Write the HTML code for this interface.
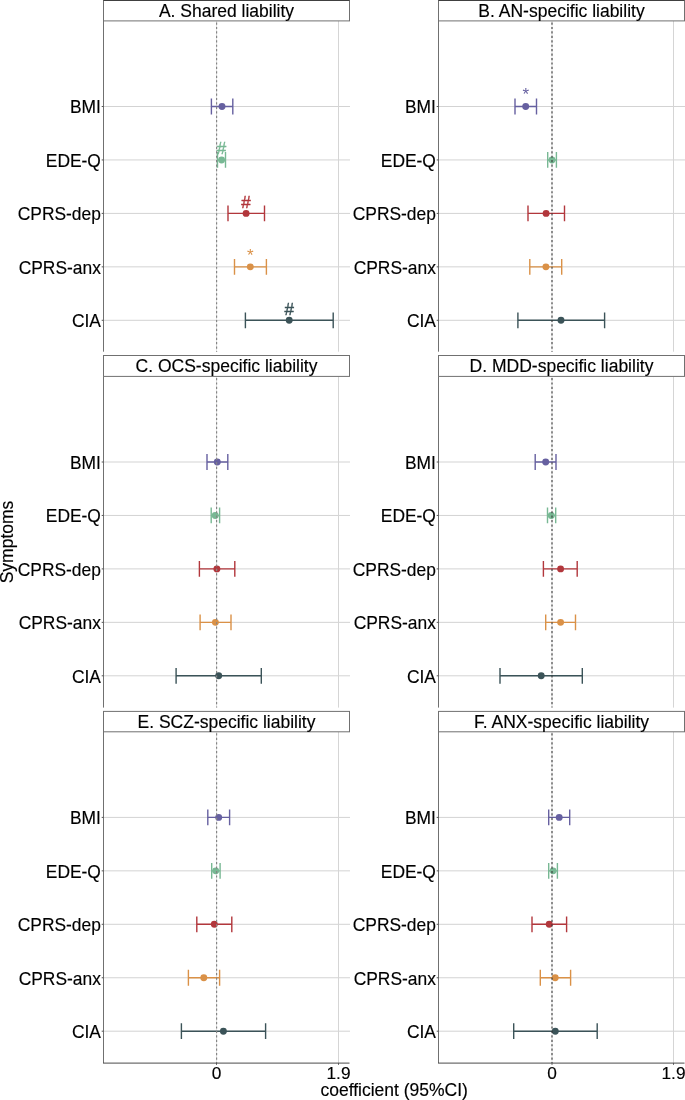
<!DOCTYPE html><html><head><meta charset="utf-8"><style>
html,body{margin:0;padding:0;overflow:hidden;}
svg{display:block;will-change:transform;}
text{font-family:"Liberation Sans", sans-serif;stroke:currentColor;stroke-width:0.15px;}
</style></head><body>
<svg width="685" height="1100" viewBox="0 0 685 1100">
<rect width="685" height="1100" fill="#fff"/>
<line x1="103.50" y1="106.50" x2="350.00" y2="106.50" stroke="#d3d3d3" stroke-width="1.00"/>
<line x1="103.50" y1="159.95" x2="350.00" y2="159.95" stroke="#d3d3d3" stroke-width="1.00"/>
<line x1="103.50" y1="213.40" x2="350.00" y2="213.40" stroke="#d3d3d3" stroke-width="1.00"/>
<line x1="103.50" y1="266.85" x2="350.00" y2="266.85" stroke="#d3d3d3" stroke-width="1.00"/>
<line x1="103.50" y1="320.30" x2="350.00" y2="320.30" stroke="#d3d3d3" stroke-width="1.00"/>
<line x1="216.50" y1="20.90" x2="216.50" y2="351.70" stroke="#e2e2e2" stroke-width="1.00"/>
<line x1="338.50" y1="20.90" x2="338.50" y2="351.70" stroke="#d5d5d5" stroke-width="1.00"/>
<path d="M211.40 106.50H232.80M211.40 98.60V114.40M232.80 98.60V114.40" stroke="#6660a0" stroke-width="1.4" fill="none"/>
<circle cx="222.00" cy="106.50" r="3.45" fill="#6660a0"/>
<path d="M217.50 159.95H225.50M217.50 152.05V167.85M225.50 152.05V167.85" stroke="#78b894" stroke-width="1.4" fill="none"/>
<circle cx="221.60" cy="159.95" r="3.45" fill="#78b894"/>
<text x="221.60" y="154.15" font-size="17.0" text-anchor="middle" fill="#78b894" style="color:#78b894;stroke-width:0.4px">#</text>
<path d="M228.00 213.40H264.50M228.00 205.50V221.30M264.50 205.50V221.30" stroke="#b2373c" stroke-width="1.4" fill="none"/>
<circle cx="246.10" cy="213.40" r="3.45" fill="#b2373c"/>
<text x="246.10" y="207.60" font-size="17.0" text-anchor="middle" fill="#b2373c" style="color:#b2373c;stroke-width:0.4px">#</text>
<path d="M234.50 266.85H266.40M234.50 258.95V274.75M266.40 258.95V274.75" stroke="#da9147" stroke-width="1.4" fill="none"/>
<circle cx="250.30" cy="266.85" r="3.45" fill="#da9147"/>
<text x="250.30" y="260.55" font-size="17.0" text-anchor="middle" fill="#da9147" style="color:#da9147;stroke:none">*</text>
<path d="M245.40 320.30H333.20M245.40 312.40V328.20M333.20 312.40V328.20" stroke="#3b5358" stroke-width="1.4" fill="none"/>
<circle cx="289.20" cy="320.30" r="3.45" fill="#3b5358"/>
<text x="289.20" y="314.50" font-size="17.0" text-anchor="middle" fill="#3b5358" style="color:#3b5358;stroke-width:0.4px">#</text>
<line x1="216.60" y1="20.90" x2="216.60" y2="351.70" stroke="#858585" stroke-width="1.20" stroke-dasharray="2.2 2.24" stroke-dashoffset="2.9"/>
<line x1="103.50" y1="20.90" x2="103.50" y2="351.70" stroke="#707070" stroke-width="1.00"/>
<line x1="101.70" y1="106.50" x2="103.50" y2="106.50" stroke="#555" stroke-width="1.00"/>
<text transform="translate(100.90 113.30) scale(1 1.040)" font-size="17.4" text-anchor="end" fill="#000">BMI</text>
<line x1="101.70" y1="159.95" x2="103.50" y2="159.95" stroke="#555" stroke-width="1.00"/>
<text transform="translate(100.90 166.75) scale(1 1.040)" font-size="17.4" text-anchor="end" fill="#000">EDE-Q</text>
<line x1="101.70" y1="213.40" x2="103.50" y2="213.40" stroke="#555" stroke-width="1.00"/>
<text transform="translate(100.90 220.20) scale(1 1.040)" font-size="17.4" text-anchor="end" fill="#000">CPRS-dep</text>
<line x1="101.70" y1="266.85" x2="103.50" y2="266.85" stroke="#555" stroke-width="1.00"/>
<text transform="translate(100.90 273.65) scale(1 1.040)" font-size="17.4" text-anchor="end" fill="#000">CPRS-anx</text>
<line x1="101.70" y1="320.30" x2="103.50" y2="320.30" stroke="#555" stroke-width="1.00"/>
<text transform="translate(100.90 327.10) scale(1 1.040)" font-size="17.4" text-anchor="end" fill="#000">CIA</text>
<rect x="103.50" y="0.50" width="246.00" height="20.40" fill="#fff" stroke="#707070" stroke-width="1"/>
<text x="226.50" y="16.70" font-size="17.5" text-anchor="middle" fill="#000">A. Shared liability</text>
<line x1="438.50" y1="106.50" x2="685.00" y2="106.50" stroke="#d3d3d3" stroke-width="1.00"/>
<line x1="438.50" y1="159.95" x2="685.00" y2="159.95" stroke="#d3d3d3" stroke-width="1.00"/>
<line x1="438.50" y1="213.40" x2="685.00" y2="213.40" stroke="#d3d3d3" stroke-width="1.00"/>
<line x1="438.50" y1="266.85" x2="685.00" y2="266.85" stroke="#d3d3d3" stroke-width="1.00"/>
<line x1="438.50" y1="320.30" x2="685.00" y2="320.30" stroke="#d3d3d3" stroke-width="1.00"/>
<line x1="552.00" y1="20.90" x2="552.00" y2="351.70" stroke="#e2e2e2" stroke-width="1.00"/>
<line x1="673.50" y1="20.90" x2="673.50" y2="351.70" stroke="#d5d5d5" stroke-width="1.00"/>
<path d="M515.00 106.50H536.50M515.00 98.60V114.40M536.50 98.60V114.40" stroke="#6660a0" stroke-width="1.4" fill="none"/>
<circle cx="525.70" cy="106.50" r="3.45" fill="#6660a0"/>
<text x="525.70" y="100.20" font-size="17.0" text-anchor="middle" fill="#6660a0" style="color:#6660a0;stroke:none">*</text>
<path d="M547.70 159.95H556.40M547.70 152.05V167.85M556.40 152.05V167.85" stroke="#78b894" stroke-width="1.4" fill="none"/>
<circle cx="552.00" cy="159.95" r="3.45" fill="#78b894"/>
<path d="M528.00 213.40H564.50M528.00 205.50V221.30M564.50 205.50V221.30" stroke="#b2373c" stroke-width="1.4" fill="none"/>
<circle cx="546.10" cy="213.40" r="3.45" fill="#b2373c"/>
<path d="M529.80 266.85H561.70M529.80 258.95V274.75M561.70 258.95V274.75" stroke="#da9147" stroke-width="1.4" fill="none"/>
<circle cx="545.90" cy="266.85" r="3.45" fill="#da9147"/>
<path d="M517.90 320.30H604.60M517.90 312.40V328.20M604.60 312.40V328.20" stroke="#3b5358" stroke-width="1.4" fill="none"/>
<circle cx="561.00" cy="320.30" r="3.45" fill="#3b5358"/>
<line x1="552.00" y1="20.90" x2="552.00" y2="351.70" stroke="#333333" stroke-width="1.05" stroke-dasharray="2.2 2.24" stroke-dashoffset="2.9"/>
<line x1="438.50" y1="20.90" x2="438.50" y2="351.70" stroke="#707070" stroke-width="1.00"/>
<line x1="436.70" y1="106.50" x2="438.50" y2="106.50" stroke="#555" stroke-width="1.00"/>
<text transform="translate(435.90 113.30) scale(1 1.040)" font-size="17.4" text-anchor="end" fill="#000">BMI</text>
<line x1="436.70" y1="159.95" x2="438.50" y2="159.95" stroke="#555" stroke-width="1.00"/>
<text transform="translate(435.90 166.75) scale(1 1.040)" font-size="17.4" text-anchor="end" fill="#000">EDE-Q</text>
<line x1="436.70" y1="213.40" x2="438.50" y2="213.40" stroke="#555" stroke-width="1.00"/>
<text transform="translate(435.90 220.20) scale(1 1.040)" font-size="17.4" text-anchor="end" fill="#000">CPRS-dep</text>
<line x1="436.70" y1="266.85" x2="438.50" y2="266.85" stroke="#555" stroke-width="1.00"/>
<text transform="translate(435.90 273.65) scale(1 1.040)" font-size="17.4" text-anchor="end" fill="#000">CPRS-anx</text>
<line x1="436.70" y1="320.30" x2="438.50" y2="320.30" stroke="#555" stroke-width="1.00"/>
<text transform="translate(435.90 327.10) scale(1 1.040)" font-size="17.4" text-anchor="end" fill="#000">CIA</text>
<rect x="438.50" y="0.50" width="246.00" height="20.40" fill="#fff" stroke="#707070" stroke-width="1"/>
<text x="561.50" y="16.70" font-size="17.5" text-anchor="middle" fill="#000">B. AN-specific liability</text>
<line x1="103.50" y1="462.00" x2="350.00" y2="462.00" stroke="#d3d3d3" stroke-width="1.00"/>
<line x1="103.50" y1="515.45" x2="350.00" y2="515.45" stroke="#d3d3d3" stroke-width="1.00"/>
<line x1="103.50" y1="568.90" x2="350.00" y2="568.90" stroke="#d3d3d3" stroke-width="1.00"/>
<line x1="103.50" y1="622.35" x2="350.00" y2="622.35" stroke="#d3d3d3" stroke-width="1.00"/>
<line x1="103.50" y1="675.80" x2="350.00" y2="675.80" stroke="#d3d3d3" stroke-width="1.00"/>
<line x1="216.50" y1="376.40" x2="216.50" y2="707.60" stroke="#e2e2e2" stroke-width="1.00"/>
<line x1="338.50" y1="376.40" x2="338.50" y2="707.60" stroke="#d5d5d5" stroke-width="1.00"/>
<path d="M207.00 462.00H227.80M207.00 454.10V469.90M227.80 454.10V469.90" stroke="#6660a0" stroke-width="1.4" fill="none"/>
<circle cx="217.30" cy="462.00" r="3.45" fill="#6660a0"/>
<path d="M211.20 515.45H219.60M211.20 507.55V523.35M219.60 507.55V523.35" stroke="#78b894" stroke-width="1.4" fill="none"/>
<circle cx="215.20" cy="515.45" r="3.45" fill="#78b894"/>
<path d="M199.40 568.90H234.80M199.40 561.00V576.80M234.80 561.00V576.80" stroke="#b2373c" stroke-width="1.4" fill="none"/>
<circle cx="216.90" cy="568.90" r="3.45" fill="#b2373c"/>
<path d="M200.10 622.35H231.00M200.10 614.45V630.25M231.00 614.45V630.25" stroke="#da9147" stroke-width="1.4" fill="none"/>
<circle cx="215.40" cy="622.35" r="3.45" fill="#da9147"/>
<path d="M176.10 675.80H261.30M176.10 667.90V683.70M261.30 667.90V683.70" stroke="#3b5358" stroke-width="1.4" fill="none"/>
<circle cx="218.70" cy="675.80" r="3.45" fill="#3b5358"/>
<line x1="216.60" y1="376.40" x2="216.60" y2="707.60" stroke="#858585" stroke-width="1.20" stroke-dasharray="2.2 2.24" stroke-dashoffset="2.9"/>
<line x1="103.50" y1="376.40" x2="103.50" y2="707.60" stroke="#707070" stroke-width="1.00"/>
<line x1="101.70" y1="462.00" x2="103.50" y2="462.00" stroke="#555" stroke-width="1.00"/>
<text transform="translate(100.90 468.80) scale(1 1.040)" font-size="17.4" text-anchor="end" fill="#000">BMI</text>
<line x1="101.70" y1="515.45" x2="103.50" y2="515.45" stroke="#555" stroke-width="1.00"/>
<text transform="translate(100.90 522.25) scale(1 1.040)" font-size="17.4" text-anchor="end" fill="#000">EDE-Q</text>
<line x1="101.70" y1="568.90" x2="103.50" y2="568.90" stroke="#555" stroke-width="1.00"/>
<text transform="translate(100.90 575.70) scale(1 1.040)" font-size="17.4" text-anchor="end" fill="#000">CPRS-dep</text>
<line x1="101.70" y1="622.35" x2="103.50" y2="622.35" stroke="#555" stroke-width="1.00"/>
<text transform="translate(100.90 629.15) scale(1 1.040)" font-size="17.4" text-anchor="end" fill="#000">CPRS-anx</text>
<line x1="101.70" y1="675.80" x2="103.50" y2="675.80" stroke="#555" stroke-width="1.00"/>
<text transform="translate(100.90 682.60) scale(1 1.040)" font-size="17.4" text-anchor="end" fill="#000">CIA</text>
<rect x="103.50" y="355.50" width="246.00" height="20.90" fill="#fff" stroke="#707070" stroke-width="1"/>
<text x="226.50" y="371.70" font-size="17.5" text-anchor="middle" fill="#000">C. OCS-specific liability</text>
<line x1="438.50" y1="462.00" x2="685.00" y2="462.00" stroke="#d3d3d3" stroke-width="1.00"/>
<line x1="438.50" y1="515.45" x2="685.00" y2="515.45" stroke="#d3d3d3" stroke-width="1.00"/>
<line x1="438.50" y1="568.90" x2="685.00" y2="568.90" stroke="#d3d3d3" stroke-width="1.00"/>
<line x1="438.50" y1="622.35" x2="685.00" y2="622.35" stroke="#d3d3d3" stroke-width="1.00"/>
<line x1="438.50" y1="675.80" x2="685.00" y2="675.80" stroke="#d3d3d3" stroke-width="1.00"/>
<line x1="552.00" y1="376.40" x2="552.00" y2="707.60" stroke="#e2e2e2" stroke-width="1.00"/>
<line x1="673.50" y1="376.40" x2="673.50" y2="707.60" stroke="#d5d5d5" stroke-width="1.00"/>
<path d="M535.20 462.00H556.00M535.20 454.10V469.90M556.00 454.10V469.90" stroke="#6660a0" stroke-width="1.4" fill="none"/>
<circle cx="545.70" cy="462.00" r="3.45" fill="#6660a0"/>
<path d="M547.50 515.45H555.70M547.50 507.55V523.35M555.70 507.55V523.35" stroke="#78b894" stroke-width="1.4" fill="none"/>
<circle cx="551.30" cy="515.45" r="3.45" fill="#78b894"/>
<path d="M543.40 568.90H577.20M543.40 561.00V576.80M577.20 561.00V576.80" stroke="#b2373c" stroke-width="1.4" fill="none"/>
<circle cx="560.60" cy="568.90" r="3.45" fill="#b2373c"/>
<path d="M545.70 622.35H575.50M545.70 614.45V630.25M575.50 614.45V630.25" stroke="#da9147" stroke-width="1.4" fill="none"/>
<circle cx="560.60" cy="622.35" r="3.45" fill="#da9147"/>
<path d="M500.00 675.80H582.30M500.00 667.90V683.70M582.30 667.90V683.70" stroke="#3b5358" stroke-width="1.4" fill="none"/>
<circle cx="541.20" cy="675.80" r="3.45" fill="#3b5358"/>
<line x1="552.00" y1="376.40" x2="552.00" y2="707.60" stroke="#333333" stroke-width="1.05" stroke-dasharray="2.2 2.24" stroke-dashoffset="2.9"/>
<line x1="438.50" y1="376.40" x2="438.50" y2="707.60" stroke="#707070" stroke-width="1.00"/>
<line x1="436.70" y1="462.00" x2="438.50" y2="462.00" stroke="#555" stroke-width="1.00"/>
<text transform="translate(435.90 468.80) scale(1 1.040)" font-size="17.4" text-anchor="end" fill="#000">BMI</text>
<line x1="436.70" y1="515.45" x2="438.50" y2="515.45" stroke="#555" stroke-width="1.00"/>
<text transform="translate(435.90 522.25) scale(1 1.040)" font-size="17.4" text-anchor="end" fill="#000">EDE-Q</text>
<line x1="436.70" y1="568.90" x2="438.50" y2="568.90" stroke="#555" stroke-width="1.00"/>
<text transform="translate(435.90 575.70) scale(1 1.040)" font-size="17.4" text-anchor="end" fill="#000">CPRS-dep</text>
<line x1="436.70" y1="622.35" x2="438.50" y2="622.35" stroke="#555" stroke-width="1.00"/>
<text transform="translate(435.90 629.15) scale(1 1.040)" font-size="17.4" text-anchor="end" fill="#000">CPRS-anx</text>
<line x1="436.70" y1="675.80" x2="438.50" y2="675.80" stroke="#555" stroke-width="1.00"/>
<text transform="translate(435.90 682.60) scale(1 1.040)" font-size="17.4" text-anchor="end" fill="#000">CIA</text>
<rect x="438.50" y="355.50" width="246.00" height="20.90" fill="#fff" stroke="#707070" stroke-width="1"/>
<text x="561.50" y="371.70" font-size="17.5" text-anchor="middle" fill="#000">D. MDD-specific liability</text>
<line x1="103.50" y1="817.40" x2="350.00" y2="817.40" stroke="#d3d3d3" stroke-width="1.00"/>
<line x1="103.50" y1="870.85" x2="350.00" y2="870.85" stroke="#d3d3d3" stroke-width="1.00"/>
<line x1="103.50" y1="924.30" x2="350.00" y2="924.30" stroke="#d3d3d3" stroke-width="1.00"/>
<line x1="103.50" y1="977.75" x2="350.00" y2="977.75" stroke="#d3d3d3" stroke-width="1.00"/>
<line x1="103.50" y1="1031.20" x2="350.00" y2="1031.20" stroke="#d3d3d3" stroke-width="1.00"/>
<line x1="216.50" y1="731.80" x2="216.50" y2="1063.00" stroke="#e2e2e2" stroke-width="1.00"/>
<line x1="338.50" y1="731.80" x2="338.50" y2="1063.00" stroke="#d5d5d5" stroke-width="1.00"/>
<path d="M207.80 817.40H229.60M207.80 809.50V825.30M229.60 809.50V825.30" stroke="#6660a0" stroke-width="1.4" fill="none"/>
<circle cx="218.70" cy="817.40" r="3.45" fill="#6660a0"/>
<path d="M211.70 870.85H220.10M211.70 862.95V878.75M220.10 862.95V878.75" stroke="#78b894" stroke-width="1.4" fill="none"/>
<circle cx="215.70" cy="870.85" r="3.45" fill="#78b894"/>
<path d="M196.80 924.30H231.80M196.80 916.40V932.20M231.80 916.40V932.20" stroke="#b2373c" stroke-width="1.4" fill="none"/>
<circle cx="214.30" cy="924.30" r="3.45" fill="#b2373c"/>
<path d="M188.40 977.75H219.60M188.40 969.85V985.65M219.60 969.85V985.65" stroke="#da9147" stroke-width="1.4" fill="none"/>
<circle cx="203.80" cy="977.75" r="3.45" fill="#da9147"/>
<path d="M181.40 1031.20H265.60M181.40 1023.30V1039.10M265.60 1023.30V1039.10" stroke="#3b5358" stroke-width="1.4" fill="none"/>
<circle cx="223.40" cy="1031.20" r="3.45" fill="#3b5358"/>
<line x1="216.60" y1="731.80" x2="216.60" y2="1063.00" stroke="#858585" stroke-width="1.20" stroke-dasharray="2.2 2.24" stroke-dashoffset="2.9"/>
<line x1="103.50" y1="731.80" x2="103.50" y2="1063.00" stroke="#707070" stroke-width="1.00"/>
<line x1="101.70" y1="817.40" x2="103.50" y2="817.40" stroke="#555" stroke-width="1.00"/>
<text transform="translate(100.90 824.20) scale(1 1.040)" font-size="17.4" text-anchor="end" fill="#000">BMI</text>
<line x1="101.70" y1="870.85" x2="103.50" y2="870.85" stroke="#555" stroke-width="1.00"/>
<text transform="translate(100.90 877.65) scale(1 1.040)" font-size="17.4" text-anchor="end" fill="#000">EDE-Q</text>
<line x1="101.70" y1="924.30" x2="103.50" y2="924.30" stroke="#555" stroke-width="1.00"/>
<text transform="translate(100.90 931.10) scale(1 1.040)" font-size="17.4" text-anchor="end" fill="#000">CPRS-dep</text>
<line x1="101.70" y1="977.75" x2="103.50" y2="977.75" stroke="#555" stroke-width="1.00"/>
<text transform="translate(100.90 984.55) scale(1 1.040)" font-size="17.4" text-anchor="end" fill="#000">CPRS-anx</text>
<line x1="101.70" y1="1031.20" x2="103.50" y2="1031.20" stroke="#555" stroke-width="1.00"/>
<text transform="translate(100.90 1038.00) scale(1 1.040)" font-size="17.4" text-anchor="end" fill="#000">CIA</text>
<rect x="103.50" y="711.40" width="246.00" height="20.40" fill="#fff" stroke="#707070" stroke-width="1"/>
<text x="226.50" y="727.60" font-size="17.5" text-anchor="middle" fill="#000">E. SCZ-specific liability</text>
<line x1="103.00" y1="1063.10" x2="349.50" y2="1063.10" stroke="#4a4a4a" stroke-width="1.00"/>
<line x1="216.50" y1="1063.00" x2="216.50" y2="1064.80" stroke="#555" stroke-width="1.00"/>
<text x="216.50" y="1078.60" font-size="17.3" text-anchor="middle" fill="#000">0</text>
<line x1="338.50" y1="1063.00" x2="338.50" y2="1064.80" stroke="#555" stroke-width="1.00"/>
<text x="338.50" y="1078.60" font-size="17.3" text-anchor="middle" fill="#000">1.9</text>
<line x1="438.50" y1="817.40" x2="685.00" y2="817.40" stroke="#d3d3d3" stroke-width="1.00"/>
<line x1="438.50" y1="870.85" x2="685.00" y2="870.85" stroke="#d3d3d3" stroke-width="1.00"/>
<line x1="438.50" y1="924.30" x2="685.00" y2="924.30" stroke="#d3d3d3" stroke-width="1.00"/>
<line x1="438.50" y1="977.75" x2="685.00" y2="977.75" stroke="#d3d3d3" stroke-width="1.00"/>
<line x1="438.50" y1="1031.20" x2="685.00" y2="1031.20" stroke="#d3d3d3" stroke-width="1.00"/>
<line x1="552.00" y1="731.80" x2="552.00" y2="1063.00" stroke="#e2e2e2" stroke-width="1.00"/>
<line x1="673.50" y1="731.80" x2="673.50" y2="1063.00" stroke="#d5d5d5" stroke-width="1.00"/>
<path d="M548.70 817.40H569.70M548.70 809.50V825.30M569.70 809.50V825.30" stroke="#6660a0" stroke-width="1.4" fill="none"/>
<circle cx="559.20" cy="817.40" r="3.45" fill="#6660a0"/>
<path d="M548.70 870.85H557.40M548.70 862.95V878.75M557.40 862.95V878.75" stroke="#78b894" stroke-width="1.4" fill="none"/>
<circle cx="553.10" cy="870.85" r="3.45" fill="#78b894"/>
<path d="M532.00 924.30H566.60M532.00 916.40V932.20M566.60 916.40V932.20" stroke="#b2373c" stroke-width="1.4" fill="none"/>
<circle cx="549.20" cy="924.30" r="3.45" fill="#b2373c"/>
<path d="M540.30 977.75H570.60M540.30 969.85V985.65M570.60 969.85V985.65" stroke="#da9147" stroke-width="1.4" fill="none"/>
<circle cx="555.20" cy="977.75" r="3.45" fill="#da9147"/>
<path d="M513.70 1031.20H597.20M513.70 1023.30V1039.10M597.20 1023.30V1039.10" stroke="#3b5358" stroke-width="1.4" fill="none"/>
<circle cx="555.30" cy="1031.20" r="3.45" fill="#3b5358"/>
<line x1="552.00" y1="731.80" x2="552.00" y2="1063.00" stroke="#333333" stroke-width="1.05" stroke-dasharray="2.2 2.24" stroke-dashoffset="2.9"/>
<line x1="438.50" y1="731.80" x2="438.50" y2="1063.00" stroke="#707070" stroke-width="1.00"/>
<line x1="436.70" y1="817.40" x2="438.50" y2="817.40" stroke="#555" stroke-width="1.00"/>
<text transform="translate(435.90 824.20) scale(1 1.040)" font-size="17.4" text-anchor="end" fill="#000">BMI</text>
<line x1="436.70" y1="870.85" x2="438.50" y2="870.85" stroke="#555" stroke-width="1.00"/>
<text transform="translate(435.90 877.65) scale(1 1.040)" font-size="17.4" text-anchor="end" fill="#000">EDE-Q</text>
<line x1="436.70" y1="924.30" x2="438.50" y2="924.30" stroke="#555" stroke-width="1.00"/>
<text transform="translate(435.90 931.10) scale(1 1.040)" font-size="17.4" text-anchor="end" fill="#000">CPRS-dep</text>
<line x1="436.70" y1="977.75" x2="438.50" y2="977.75" stroke="#555" stroke-width="1.00"/>
<text transform="translate(435.90 984.55) scale(1 1.040)" font-size="17.4" text-anchor="end" fill="#000">CPRS-anx</text>
<line x1="436.70" y1="1031.20" x2="438.50" y2="1031.20" stroke="#555" stroke-width="1.00"/>
<text transform="translate(435.90 1038.00) scale(1 1.040)" font-size="17.4" text-anchor="end" fill="#000">CIA</text>
<rect x="438.50" y="711.40" width="246.00" height="20.40" fill="#fff" stroke="#707070" stroke-width="1"/>
<text x="561.50" y="727.60" font-size="17.5" text-anchor="middle" fill="#000">F. ANX-specific liability</text>
<line x1="438.00" y1="1063.10" x2="684.50" y2="1063.10" stroke="#4a4a4a" stroke-width="1.00"/>
<line x1="552.00" y1="1063.00" x2="552.00" y2="1064.80" stroke="#555" stroke-width="1.00"/>
<text x="552.00" y="1078.60" font-size="17.3" text-anchor="middle" fill="#000">0</text>
<line x1="673.50" y1="1063.00" x2="673.50" y2="1064.80" stroke="#555" stroke-width="1.00"/>
<text x="673.50" y="1078.60" font-size="17.3" text-anchor="middle" fill="#000">1.9</text>
<line x1="103.50" y1="0.50" x2="349.50" y2="0.50" stroke="#404040" stroke-width="1.00"/>
<line x1="438.50" y1="0.50" x2="684.50" y2="0.50" stroke="#404040" stroke-width="1.00"/>
<text x="394.2" y="1095.8" font-size="17.5" text-anchor="middle" fill="#000">coefficient (95%CI)</text>
<text transform="translate(13.2,542) rotate(-90)" font-size="17.5" text-anchor="middle" fill="#000">Symptoms</text>
</svg></body></html>
